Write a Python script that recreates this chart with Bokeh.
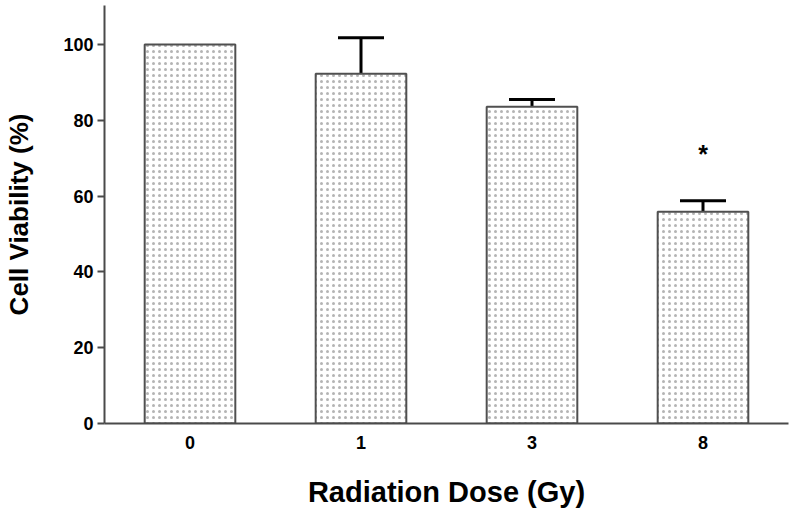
from bokeh.plotting import figure
from bokeh.models import ColumnDataSource, FactorRange, Range1d, Whisker, TeeHead
from bokeh.core.properties import value
from bokeh.embed import file_html
from bokeh.resources import INLINE

doses = ["0", "1", "3", "8"]
viability = [100.0, 92.3, 83.6, 55.9]
sem = [0.0, 9.5, 1.9, 2.9]
marks = ["", "", "", "*"]
y_ticks = [0, 20, 40, 60, 80, 100]

upper = [v + e for v, e in zip(viability, sem)]
src = ColumnDataSource(dict(x=doses, top=viability, upper=upper))

p = figure(x_range=FactorRange(factors=doses, range_padding=0),
           y_range=Range1d(0, 110.3),
           width=792, height=515, output_backend="svg", toolbar_location=None,
           min_border_left=104, min_border_right=4, min_border_top=5, min_border_bottom=92)

p.vbar(x="x", top="top", width=0.53, source=src, fill_color="white",
       line_color="#505050", line_width=2,
       hatch_pattern="dot", hatch_scale=6, hatch_weight=1, hatch_color="#b4b4b4")

err_idx = [i for i, e in enumerate(sem) if e > 0]
esrc = ColumnDataSource(dict(x=[doses[i] for i in err_idx],
                             lo=[viability[i] for i in err_idx],
                             hi=[upper[i] for i in err_idx]))
w = Whisker(base="x", lower="lo", upper="hi", source=esrc,
            upper_head=TeeHead(size=46, line_width=3, line_color="black"),
            lower_head=None, line_width=3, line_color="black")
p.add_layout(w)

star_idx = [i for i, m in enumerate(marks) if m]
ssrc = ColumnDataSource(dict(x=[doses[i] for i in star_idx],
                             y=[upper[i] + 12.3 for i in star_idx],
                             t=[marks[i] for i in star_idx]))
p.text(x="x", y="y", text="t", source=ssrc, text_align="center", text_baseline="middle",
       text_font=value("Liberation Sans"), text_font_style="bold", text_font_size="25px",
       text_color="black")

p.xgrid.visible = False
p.ygrid.visible = False
p.outline_line_color = None

p.yaxis.ticker = y_ticks
p.yaxis.minor_tick_line_color = None
p.yaxis.major_tick_in = 0
p.yaxis.major_tick_out = 7
p.xaxis.major_tick_out = 0
p.xaxis.major_tick_in = 0
for ax in (p.xaxis, p.yaxis):
    ax.axis_line_width = 2
    ax.axis_line_color = "#4a4a4a"
    ax.major_tick_line_width = 2
    ax.major_tick_line_color = "#4a4a4a"
    ax.major_label_text_font = "Liberation Sans"
    ax.major_label_text_font_style = "bold"
    ax.major_label_text_font_size = "18px"
    ax.major_label_text_color = "black"
    ax.axis_label_text_font = "Liberation Sans"
    ax.axis_label_text_font_style = "bold"
    ax.axis_label_text_color = "black"

p.yaxis.axis_label = "Cell Viability (%)"
p.yaxis.axis_label_text_font_size = "26px"
p.yaxis.axis_label_standoff = 26
p.yaxis.major_label_standoff = 4
p.xaxis.axis_label = "Radiation Dose (Gy)"
p.xaxis.axis_label_text_font_size = "29px"
p.xaxis.axis_label_standoff = 24
p.xaxis.major_label_standoff = 12

open("out.html", "w").write(file_html(p, INLINE))
